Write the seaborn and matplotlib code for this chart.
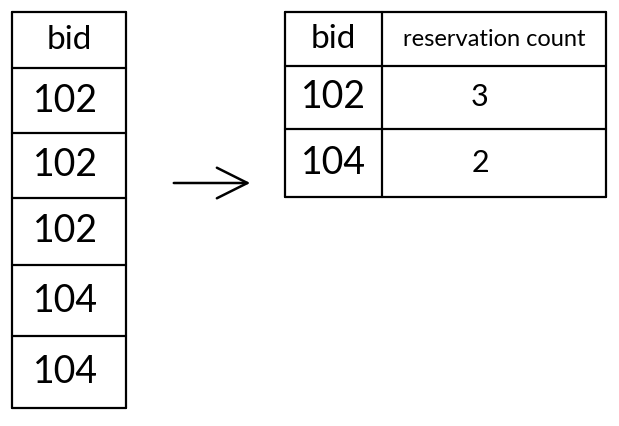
import matplotlib
matplotlib.use("Agg")
import matplotlib.pyplot as plt
import seaborn as sns

# source table: one row per reservation
bids = ["102", "102", "102", "104", "104"]

# grouped result
group_bids = ["102", "104"]
counts = ["3", "2"]
headers = ["bid", "reservation count"]

sns.set_theme(style="white")
plt.rcParams['font.family'] = ['Lato', 'DejaVu Sans']
plt.rcParams['text.color'] = 'black'

fig = plt.figure(figsize=(6.19, 4.26), dpi=100)
ax = fig.add_axes([0, 0, 1, 1])
ax.set_xlim(0, 619)
ax.set_ylim(426, 0)
ax.axis("off")

lw = 1.6
col = "black"
tkw = dict(ha="center", va="center", color=col, fontweight="normal")

# left table
lx0, lx1 = 12, 126
lrows = [12, 68, 133, 198, 265, 336, 408]
ax.plot([lx0, lx0], [lrows[0], lrows[-1]], color=col, lw=lw)
ax.plot([lx1, lx1], [lrows[0], lrows[-1]], color=col, lw=lw)
for y in lrows:
    ax.plot([lx0, lx1], [y, y], color=col, lw=lw)
ax.text((lx0 + lx1) / 2, (lrows[0] + lrows[1]) / 2, headers[0],
        fontsize=24, **tkw)
for i, b in enumerate(bids):
    ax.text((lx0 + lx1) / 2 - 3, (lrows[i + 1] + lrows[i + 2]) / 2, b,
            fontsize=27, **tkw)

# arrow
ax.annotate("", xy=(253, 183), xytext=(171, 183),
            arrowprops=dict(arrowstyle="->", color=col, lw=1.8,
                            mutation_scale=55))

# right table
rx0, rxm, rx1 = 285, 382, 606
rrows = [12, 66, 129, 197]
for x in (rx0, rxm, rx1):
    ax.plot([x, x], [rrows[0], rrows[-1]], color=col, lw=lw)
for y in rrows:
    ax.plot([rx0, rx1], [y, y], color=col, lw=lw)
ax.text((rx0 + rxm) / 2, (rrows[0] + rrows[1]) / 2, headers[0],
        fontsize=24, **tkw)
ax.text((rxm + rx1) / 2, (rrows[0] + rrows[1]) / 2, headers[1],
        fontsize=17, **tkw)
for i, (b, c) in enumerate(zip(group_bids, counts)):
    yc = (rrows[i + 1] + rrows[i + 2]) / 2
    ax.text((rx0 + rxm) / 2, yc, b, fontsize=27, **tkw)
    ax.text(480, yc, c, fontsize=22, **tkw)

fig.savefig("out.png", dpi=100)
